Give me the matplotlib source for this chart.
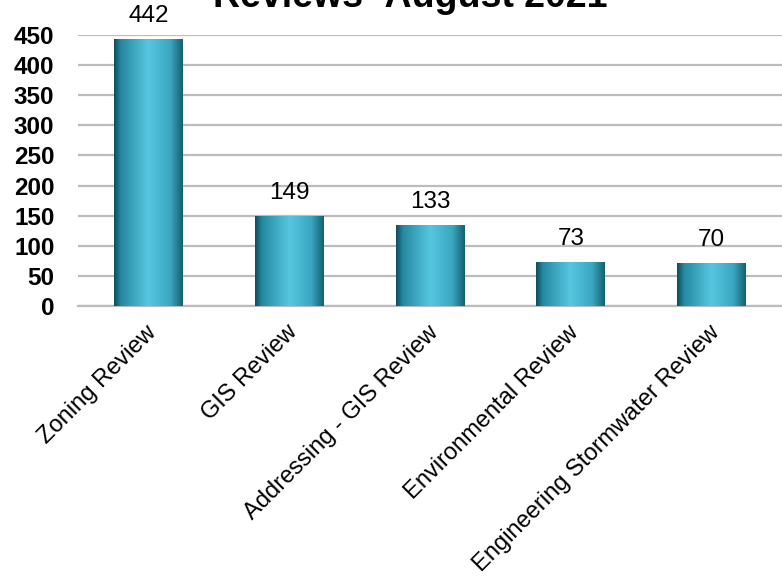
import numpy as np
import matplotlib.pyplot as plt
from matplotlib.colors import LinearSegmentedColormap
from matplotlib.transforms import ScaledTranslation

plt.rcParams['font.family'] = ['Liberation Sans', 'DejaVu Sans']

categories = ["Zoning Review", "GIS Review", "Addressing - GIS Review",
              "Environmental Review", "Engineering Stormwater Review"]
counts = [442, 149, 133, 73, 70]
yticks = list(range(0, 451, 50))

# cylinder-style shading across each bar
bar_cmap = LinearSegmentedColormap.from_list(
    "cyl", [(0.0, "#0c4c5a"), (0.1, "#2689a1"), (0.5, "#56c7e0"),
            (0.82, "#3aa6c0"), (1.0, "#14606f")])

fig = plt.figure(figsize=(7.82, 5.78), dpi=100)
ax = fig.add_axes([78 / 782, 1 - 306 / 578, 704 / 782, 271 / 578])

x = np.arange(len(categories))
bars = ax.bar(x, counts, width=0.49, color="#3aa6c0", zorder=2)

grad = np.linspace(0, 1, 256).reshape(1, -1)
for b in bars:
    x0, w, h = b.get_x(), b.get_width(), b.get_height()
    ax.imshow(grad, extent=[x0, x0 + w, 0, h], aspect='auto', cmap=bar_cmap,
              zorder=3, interpolation='bicubic')

ax.bar_label(bars, labels=[str(c) for c in counts], padding=9, fontsize=17.5)

ax.set_xlim(-0.5, len(categories) - 0.5)
ax.set_ylim(0, 450)
ax.set_yticks(yticks)
ax.set_yticklabels([str(t) for t in yticks], fontsize=17.5, fontweight='bold')
ax.tick_params(axis='y', length=0, pad=17)
ax.tick_params(axis='x', length=0, pad=6)
ax.set_xticks(x)
ax.set_xticklabels(categories, rotation=45, ha='right', va='top',
                   rotation_mode='anchor', fontsize=17)
shift = ScaledTranslation(-3 / 100, -7 / 100, fig.dpi_scale_trans)
for lbl in ax.get_xticklabels():
    lbl.set_transform(lbl.get_transform() + shift)

ax.grid(axis='y', color="#bcbcbc", linewidth=1.6, zorder=0)
ax.set_axisbelow(True)
for side in ['top', 'right', 'left']:
    ax.spines[side].set_visible(False)
ax.spines['bottom'].set_color("#bcbcbc")
ax.spines['bottom'].set_linewidth(1.6)

fig.text(410 / 782, 1 - 7 / 578, "Reviews- August 2021", ha='center',
         va='baseline', fontsize=27, fontweight='bold')

fig.savefig("out.png", dpi=100)
